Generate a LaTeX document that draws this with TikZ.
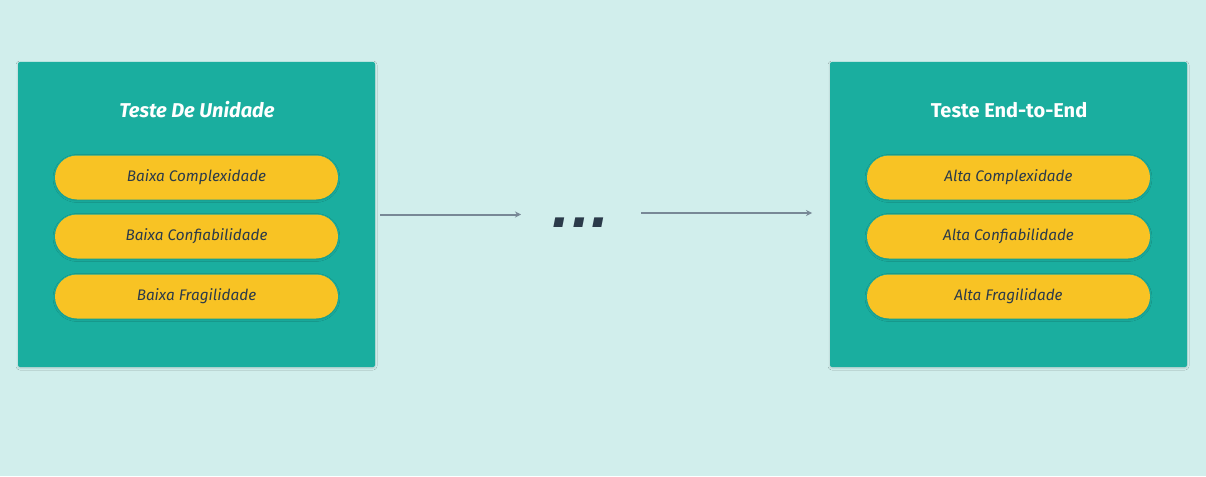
\documentclass[tikz,border=0pt]{standalone}
\usepackage{fontspec}
\setmainfont{Fira Sans}
\newfontfamily\dotfont{DejaVu Sans}
\usetikzlibrary{arrows.meta,shadows.blur}
\definecolor{bg}{HTML}{D1EEEC}
\definecolor{teal}{HTML}{1AAE9F}
\definecolor{pill}{HTML}{F8C324}
\definecolor{ink}{HTML}{2B3A4A}
\definecolor{arrowc}{HTML}{788896}
\begin{document}
\begin{tikzpicture}[x=1pt,y=-1pt,
  panel/.style={fill=teal,rounded corners=2pt,minimum width=357pt,minimum height=305pt,inner sep=0pt,
    blur shadow={shadow xshift=0pt,shadow yshift=-1pt,shadow blur radius=2pt,shadow opacity=15}},
  pillbox/.style={fill=pill,rounded corners=22pt,minimum width=283pt,minimum height=44pt,inner sep=0pt,
    text=ink,font=\fontsize{15.3}{18}\selectfont\itshape,
    blur shadow={shadow xshift=0pt,shadow yshift=-1pt,shadow blur radius=2pt,shadow opacity=15}},
  title/.style={text=white,font=\fontsize{20}{24}\selectfont\bfseries},
  conn/.style={draw=arrowc,line width=2pt,-{Stealth[length=6pt,width=6pt]}}]
\useasboundingbox[fill=bg] (0,0) rectangle (1206,476);
\node[panel] (L) at (196.5,214.5) {};
\node[panel] (R) at (1008.5,214.5) {};
\node[title,font=\fontsize{20}{24}\selectfont\bfseries\itshape] (LT) at (197,110) {Teste De Unidade};
\node[title] (RT) at (1009,110) {Teste End-to-End};
\node[pillbox] (L1) at (196.5,177.5) {Baixa Complexidade};
\node[pillbox] (L2) at (196.5,236.5) {Baixa Confiabilidade};
\node[pillbox] (L3) at (196.5,296.5) {Baixa Fragilidade};
\node[pillbox] (R1) at (1008.5,177.5) {Alta Complexidade};
\node[pillbox] (R2) at (1008.5,236.5) {Alta Confiabilidade};
\node[pillbox] (R3) at (1008.5,296.5) {Alta Fragilidade};
\node[text=ink,font=\dotfont\fontsize{51}{51}\selectfont\bfseries\itshape,inner sep=0pt,anchor=base] (D) at (581,227) {...};
\coordinate (a1s) at (380,214.5);
\coordinate (a1e) at (521,214.5);
\coordinate (a2s) at (641,213);
\coordinate (a2e) at (812,213);
\draw[conn] (a1s) -- (a1e);
\draw[conn] (a2s) -- (a2e);
\end{tikzpicture}
\end{document}
